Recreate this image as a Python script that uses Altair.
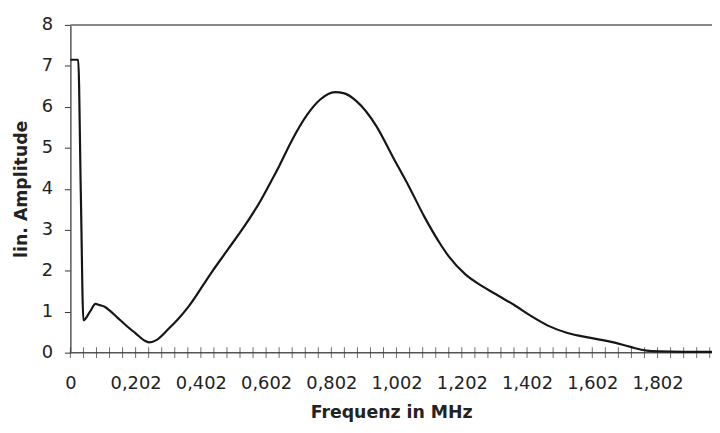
import json
import altair as alt
import pandas as pd

# Frequency (MHz) and linear amplitude
freq = [0.0, 0.024, 0.032, 0.040, 0.060, 0.077, 0.090, 0.105, 0.120, 0.145,
        0.170, 0.200, 0.226, 0.241, 0.262, 0.302, 0.327, 0.361, 0.432, 0.483,
        0.533, 0.584, 0.614, 0.640, 0.675, 0.726, 0.766, 0.811, 0.840, 0.877,
        0.938, 0.989, 1.039, 1.085, 1.135, 1.160, 1.211, 1.261, 1.312, 1.363,
        1.413, 1.464, 1.524, 1.595, 1.666, 1.717, 1.767, 1.808, 1.880, 1.967]
amp = [7.15, 7.15, 3.9, 0.79, 1.00, 1.19, 1.16, 1.12, 1.03, 0.85,
       0.67, 0.47, 0.30, 0.25, 0.30, 0.59, 0.79, 1.11, 1.95, 2.52,
       3.08, 3.72, 4.16, 4.55, 5.12, 5.81, 6.18, 6.36, 6.33, 6.14,
       5.53, 4.77, 4.04, 3.32, 2.64, 2.35, 1.91, 1.63, 1.39, 1.15,
       0.89, 0.66, 0.48, 0.36, 0.25, 0.14, 0.05, 0.03, 0.02, 0.02]

tick_labels = ["0", "0,202", "0,402", "0,602", "0,802", "1,002",
               "1,202", "1,402", "1,602", "1,802"]
minor_ticks = [round(i * 0.04, 2) for i in range(50)]
y_ticks = [0, 1, 2, 3, 4, 5, 6, 7, 8]

df = pd.DataFrame({"f": freq, "a": amp})
ticks_df = pd.DataFrame({"f": minor_ticks})

FONT = "DejaVu Sans"

label_expr = (
    "round(datum.value / 0.04) % 5 == 0 ? "
    + json.dumps(tick_labels)
    + "[round(datum.value / 0.2)] : ''"
)

x_scale = alt.Scale(domain=[0, 1.967], nice=False, zero=False)
y_scale = alt.Scale(domain=[0, 8], nice=False)

x_axis = alt.Axis(
    values=minor_ticks,
    labelExpr=label_expr,
    labelOverlap=False,
    labelFlush=False,
    domain=False,
    ticks=False,
    grid=False,
    labelPadding=22,
    labelFont=FONT,
    labelFontSize=18,
    labelColor="#222222",
    title="Frequenz in MHz",
    titleFont=FONT,
    titleFontSize=17.5,
    titleFontWeight="bold",
    titleColor="#222222",
    titleBaseline="alphabetic",
    titleY=66,
)

y_axis = alt.Axis(
    values=y_ticks,
    grid=False,
    domainColor="#555555",
    domainWidth=1.5,
    tickSize=6,
    tickColor="#333333",
    labelPadding=12,
    labelFont=FONT,
    labelFontSize=18,
    labelColor="#222222",
    title="lin. Amplitude",
    titleFont=FONT,
    titleFontSize=17.5,
    titleFontWeight="bold",
    titleColor="#222222",
    titleAngle=270,
    titleBaseline="alphabetic",
    titleX=-44.5,
    titleY=165.5,
)

line = alt.Chart(df).mark_line(
    color="#161616", strokeWidth=2.2, interpolate="monotone"
).encode(
    x=alt.X("f:Q", scale=x_scale, axis=x_axis),
    y=alt.Y("a:Q", scale=y_scale, axis=y_axis),
)

bottom_line = alt.Chart(pd.DataFrame({"a": [0]})).mark_rule(
    color="#555555", strokeWidth=1.5
).encode(y=alt.Y("a:Q", scale=y_scale, axis=y_axis))

top_line = alt.Chart(pd.DataFrame({"a": [8]})).mark_rule(
    color="#888888", strokeWidth=2
).encode(y=alt.Y("a:Q", scale=y_scale, axis=y_axis))

cross_ticks = alt.Chart(ticks_df).mark_tick(
    orient="vertical", size=11, thickness=1, color="#333333"
).encode(
    x=alt.X("f:Q", scale=x_scale, axis=x_axis),
    y=alt.datum(0),
)

chart = alt.layer(top_line, bottom_line, cross_ticks, line).properties(
    width=648,
    height=331,
    autosize=alt.AutoSizeParams(type="none"),
    padding={"left": 63, "top": 15, "right": 0, "bottom": 71},
    background="white",
).configure_view(stroke=None)

chart.save("out.html", embed_options={"renderer": "svg", "actions": False})
